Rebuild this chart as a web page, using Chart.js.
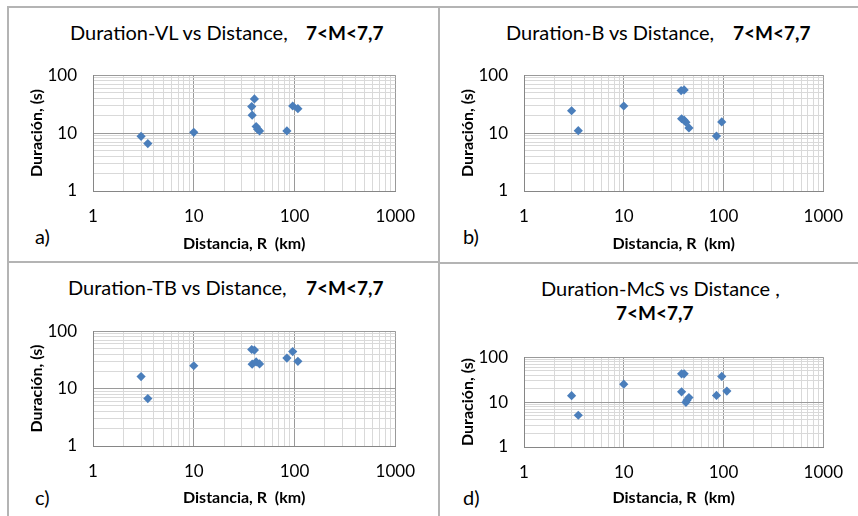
<!DOCTYPE html>
<html><head><meta charset="utf-8">
<script src="https://cdn.jsdelivr.net/npm/chart.js@4/dist/chart.umd.min.js"></script>
<style>
html,body{margin:0;padding:0;width:858px;height:516px;overflow:hidden;background:#fff;font-family:Lato,sans-serif;}
.ln{position:absolute;background:#b4b4b4;}
.t{position:absolute;white-space:nowrap;font-size:20px;color:#000;line-height:1;transform:translateY(-50%);}
.b{font-weight:700;font-size:19px;}
canvas{position:absolute;}
</style></head><body>
<div class="ln" style="left:8px;top:6px;width:850px;height:2px"></div>
<div class="ln" style="left:7px;top:6px;width:2px;height:510px"></div>
<div class="ln" style="left:438px;top:6px;width:2px;height:510px"></div>
<div class="ln" style="left:8px;top:261px;width:430px;height:2px"></div>
<div class="ln" style="left:440px;top:262px;width:418px;height:2px"></div>

<div class="t" style="left:70px;top:32px">Duration-VL vs Distance,</div>
<div class="t b" style="left:306px;top:32px">7&lt;M&lt;7,7</div>
<div class="t" style="left:506px;top:32px">Duration-B vs Distance,</div>
<div class="t b" style="left:733px;top:32px">7&lt;M&lt;7,7</div>
<div class="t" style="left:68px;top:287px">Duration-TB vs Distance,</div>
<div class="t b" style="left:306px;top:287px">7&lt;M&lt;7,7</div>
<div class="t" style="left:541px;top:288px">Duration-McS vs Distance ,</div>
<div class="t b" style="left:616px;top:312px">7&lt;M&lt;7,7</div>

<div class="t" style="left:35px;top:236px">a)</div>
<div class="t" style="left:463px;top:236px">b)</div>
<div class="t" style="left:35px;top:497px">c)</div>
<div class="t" style="left:463px;top:497px">d)</div>

<canvas id="ca" width="410" height="206" style="left:20px;top:49px"></canvas>
<canvas id="cb" width="407" height="206" style="left:451px;top:49px"></canvas>
<canvas id="cc" width="410" height="204" style="left:20px;top:305px"></canvas>
<canvas id="cd" width="407" height="178" style="left:451px;top:331px"></canvas>
<script>
// ---- data ----
const distA = [3, 3.5, 10, 37.6, 40, 38, 41.6, 43, 45, 84, 96, 108];
const durA  = [8.8, 6.6, 10.3, 28.7, 39, 20.4, 13.0, 11.7, 10.9, 10.9, 29.4, 26.4];

const distB = [3, 3.5, 10, 37.6, 40.3, 38, 40.3, 42, 45, 85, 96];
const durB  = [24.3, 11.0, 29.4, 54.2, 55.6, 17.7, 16.7, 15.4, 12.3, 8.9, 15.6];

const distC = [3, 3.5, 10, 37.6, 40, 38, 41.6, 45, 84, 96, 108];
const durC  = [16.2, 6.7, 25.0, 48, 46.9, 26.6, 29.2, 26.9, 34.0, 44.2, 29.9];

const distD = [3, 3.5, 10, 38, 40.3, 38, 42, 43, 45, 85, 96, 108];
const durD  = [13.9, 5.1, 25.1, 42.6, 42.6, 16.9, 9.9, 11.0, 12.6, 14.1, 37.3, 17.6];

// tick / grid values
const xGrid = [1,2,3,4,5,6,7,8,9,10,20,30,40,50,60,70,80,90,100,200,300,400,500,600,700,800,900,1000];
const yGrid = [1,2,3,4,5,6,7,8,9,10,20,30,40,50,60,70,80,90,100];
const xLabels = [1, 10, 100, 1000];
const yLabels = [1, 10, 100];

const xTitle = 'Distancia, R  (km)';
const yTitle = 'Duración, (s)';

Chart.defaults.font.family = 'Lato, sans-serif';

function gridColor(c){ return xLabels.includes(c.tick && c.tick.value) ? '#9a9a9a' : '#d9d9d9'; }

function makeChart(id, xs, ys, yW, xH, padR){
  const pts = xs.map((x,i)=>({x:x, y:ys[i]}));
  return new Chart(document.getElementById(id), {
    type:'scatter',
    data:{datasets:[{data:pts, pointStyle:'rectRot', pointRadius:4.6, pointHoverRadius:4.6,
      backgroundColor:'#4a7ebb', borderColor:'#4a7ebb', borderWidth:0}]},
    options:{
      responsive:false, animation:false, devicePixelRatio:1,
      layout:{padding:{top:12, right:padR, left:0, bottom:0}},
      plugins:{legend:{display:false}, tooltip:{enabled:false}, title:{display:false}},
      scales:{
        x:{type:'logarithmic', position:'bottom', min:1, max:1000,
          afterBuildTicks:s=>{ s.ticks = xGrid.map(v=>({value:v, major:xLabels.includes(v)})); },
          afterFit:s=>{ s.height = xH; },
          ticks:{autoSkip:false, maxRotation:0, minRotation:0, padding:15, color:'#000',
            font:{size:17}, callback:v=> xLabels.includes(v) ? String(v) : ''},
          grid:{drawTicks:false, color:gridColor, lineWidth:1},
          border:{color:'#868686', width:1},
          title:{display:true, text:xTitle, color:'#000', font:{size:16, weight:'bold'}, padding:{top:0,bottom:2}}
        },
        y:{type:'logarithmic', position:'left', min:1, max:100,
          afterBuildTicks:s=>{ s.ticks = yGrid.map(v=>({value:v, major:yLabels.includes(v)})); },
          afterFit:s=>{ s.width = yW; },
          ticks:{autoSkip:false, padding:16, color:'#000', font:{size:17},
            callback:v=> yLabels.includes(v) ? String(v) : ''},
          grid:{drawTicks:false, color:gridColor, lineWidth:1},
          border:{color:'#868686', width:1},
          title:{display:true, text:yTitle, color:'#000', font:{size:16, weight:'bold'}, padding:{top:7,bottom:0}}
        }
      }
    }
  });
}

makeChart('ca', distA, durA, 73, 64, 22);
makeChart('cb', distB, durB, 73, 64, 19);
makeChart('cc', distC, durC, 73, 63, 22);
makeChart('cd', distD, durD, 73, 62, 19);
</script>
</body></html>
